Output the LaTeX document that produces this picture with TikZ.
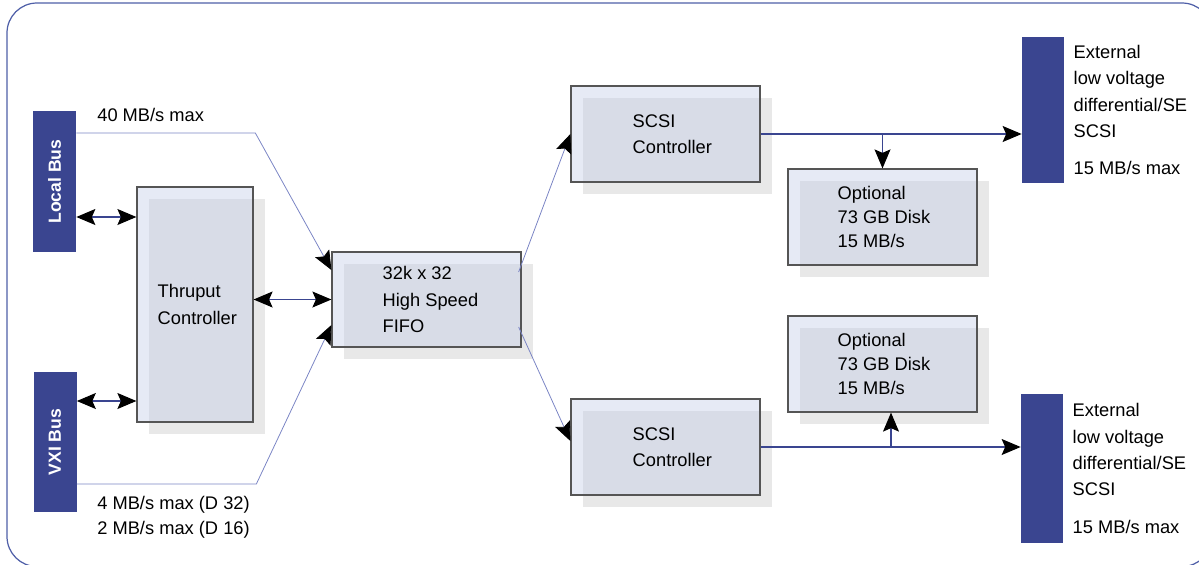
\documentclass[tikz,border=0pt]{standalone}
\usepackage{fontspec}
\setmainfont{Liberation Sans}
\usetikzlibrary{arrows.meta, positioning, shadows}

\definecolor{busblue}{HTML}{3A4590}
\definecolor{linkblue}{HTML}{7A84C4}
\definecolor{frameblue}{HTML}{4F5FA8}
\definecolor{blkfill}{HTML}{E6EAF5}
\definecolor{blkover}{HTML}{D8DCE7}
\definecolor{blkshadow}{HTML}{E8E8E8}
\definecolor{blkline}{HTML}{555555}

\begin{document}
\begin{tikzpicture}[
    font=\fontsize{10.4}{15}\selectfont,
    >={Stealth[black, length=0.38cm, width=0.32cm, inset=0.07cm]},
    bar/.style={fill=busblue, minimum width=0.86cm, inner sep=0, text=white, font=\fontsize{10}{12}\selectfont\bfseries},
    blk/.style={draw=blkline, line width=0.7pt, fill=blkfill, inner sep=0,
        drop shadow={shadow xshift=0.24cm, shadow yshift=-0.24cm, fill=blkshadow, opacity=1},
        path picture={\fill[blkover] ([shift={(0.24cm,-0.24cm)}]path picture bounding box.north west) rectangle (path picture bounding box.south east);}},
    txt/.style={align=left, inner sep=0},
    disktxt/.style={align=left, inner sep=0, font=\fontsize{10.4}{13.6}\selectfont},
    bus/.style={draw=busblue, line width=0.6pt},
    link/.style={draw=linkblue, line width=0.45pt},
]

\useasboundingbox (0,0) rectangle (23.98,-11.28);
\clip (0,0) rectangle (23.98,-11.28);

% outer frame
\draw[frameblue, line width=0.7pt, rounded corners=0.6cm] (0.14,-0.06) rectangle (24.24,-11.33);

% buses
\node[bar, minimum height=2.82cm] (localbus) at (1.09,-3.63) {\rotatebox{90}{Local Bus}};
\node[bar, minimum height=2.80cm] (vxibus) at (1.10,-8.84) {\rotatebox{90}{VXI Bus}};
\node[bar, minimum width=0.84cm, minimum height=2.92cm] (extA) at (20.86,-2.20) {};
\node[bar, minimum width=0.84cm, minimum height=2.98cm] (extB) at (20.84,-9.37) {};

% blocks
\node[blk, minimum width=2.32cm, minimum height=4.70cm] (thru) at (3.90,-6.09) {};
\node[blk, minimum width=3.78cm, minimum height=1.90cm] (fifo) at (8.53,-5.99) {};
\node[blk, minimum width=3.78cm, minimum height=1.92cm] (scsiA) at (13.31,-2.68) {};
\node[blk, minimum width=3.78cm, minimum height=1.92cm] (scsiB) at (13.31,-8.94) {};
\node[blk, minimum width=3.78cm, minimum height=1.92cm] (diskA) at (17.65,-4.34) {};
\node[blk, minimum width=3.78cm, minimum height=1.92cm] (diskB) at (17.65,-7.28) {};

\node[txt, right=0.42cm of thru.west] (thrutxt) {Thruput\\Controller};
\node[txt, right=1.02cm of fifo.west] (fifotxt) {32k x 32\\High Speed\\FIFO};
\node[txt, right=1.24cm of scsiA.west] (scsiAtxt) {SCSI\\Controller};
\node[txt, right=1.24cm of scsiB.west] (scsiBtxt) {SCSI\\Controller};
\node[disktxt, right=1.00cm of diskA.west] (diskAtxt) {Optional\\73 GB Disk\\15 MB/s};
\node[disktxt, right=1.00cm of diskB.west] (diskBtxt) {Optional\\73 GB Disk\\15 MB/s};

% rates
\node[txt, anchor=west] (lbrate) at (1.94,-2.30) {40 MB/s max};
\node[txt, anchor=west, font=\fontsize{10.4}{14.2}\selectfont] (vxirate) at (1.94,-10.35) {4 MB/s max (D 32)\\2 MB/s max (D 16)};
\node[txt, right=0.18cm of extA] (extAtxt) {External\\low voltage\\differential/SE\\SCSI\\[0.22cm]15 MB/s max};
\node[txt, right=0.18cm of extB] (extBtxt) {External\\low voltage\\differential/SE\\SCSI\\[0.22cm]15 MB/s max};

% bus to thruput and fifo
\coordinate (lbport) at ([yshift=-0.71cm]localbus.east);
\coordinate (vxport) at ([yshift=0.82cm]vxibus.east);
\draw[bus, <->] (lbport) -- (lbport -| thru.west);
\draw[bus, <->] (vxport) -- (vxport -| thru.west);
\draw[bus, <->] (thru.east |- fifo.west) -- (fifo.west);

\draw[link, ->] ([yshift=0.97cm]localbus.east) -- ++(3.58,0) -- ([yshift=0.59cm]fifo.west);
\draw[link, ->] ([yshift=-0.84cm]vxibus.east) -- ++(3.59,0) -- ([yshift=-0.51cm]fifo.west);

% fifo to scsi
\draw[link, ->] ([xshift=-0.06cm, yshift=0.55cm]fifo.east) -- (scsiA.west);
\draw[link, ->] ([xshift=-0.06cm, yshift=-0.55cm]fifo.east) -- ([yshift=0.12cm]scsiB.west);

% scsi outputs
\draw[bus, ->] (scsiA.east) -- (scsiA.east -| extA.west);
\coordinate (tapA) at (scsiA.east -| diskA.north);
\draw[bus, ->] (tapA) -- (diskA.north);
\draw[bus, ->] (scsiB.east) -- (scsiB.east -| extB.west);
\path (scsiB.east -| diskB.south) ++(0.17,0) coordinate (tapB);
\draw[bus, ->] (tapB) -- (tapB |- diskB.south);

\end{tikzpicture}
\end{document}
